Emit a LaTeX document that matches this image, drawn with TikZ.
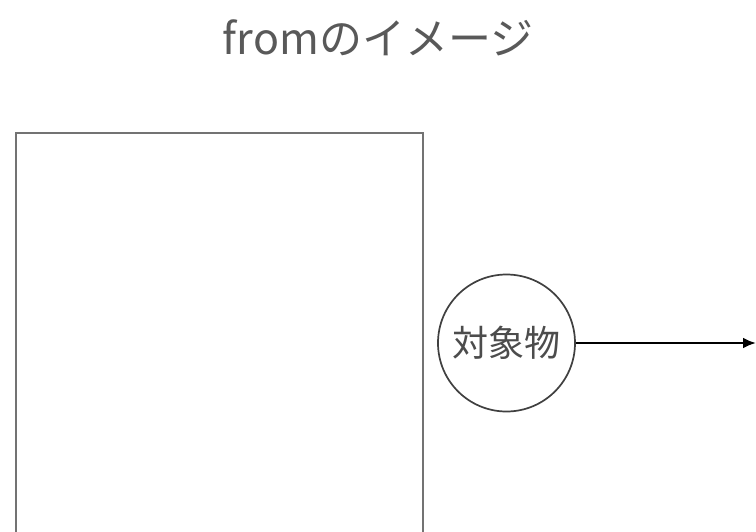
\documentclass[tikz,border=0pt]{standalone}
\usepackage{fontspec}
\newfontfamily\jpfont{Noto Sans CJK JP}
\usetikzlibrary{arrows.meta, positioning}
\begin{document}
\begin{tikzpicture}[
	  x=1pt, y=-1pt,
	  font=\jpfont,
	  titlebox/.style={
	    text=black!65,
	    inner sep=0pt,
	    font=\jpfont\fontsize{43}{43}\selectfont
	  },
	  framebox/.style={
	    draw=black!55,
	    line width=2pt,
	    minimum width=407pt,
	    minimum height=420pt,
	    inner sep=0pt
	  },
	  objcircle/.style={
	    circle,
	    draw=black!75,
	    line width=1.7pt,
	    minimum size=137pt,
	    inner sep=0pt,
	    text=black!70,
	    font=\jpfont\fontsize{36}{36}\selectfont
	  },
	  arrow/.style={-{Latex[length=13pt,width=11pt]},line width=2.4pt}
	]
	\useasboundingbox (0,0) rectangle (756,531);
	\clip (0,0) rectangle (756,531);
	\fill[white] (0,0) rectangle (756,531);
	
	\node[titlebox] (title) at (378,38) {fromのイメージ};
	\node[framebox, anchor=north west] (frame) at (15,132) {};
	\node[objcircle] (obj) at (506.5,343) {対象物};
	\coordinate (out) at (756,343);
	
	\draw[arrow] (obj.east) -- (out);
	
	\end{tikzpicture}
\end{document}
